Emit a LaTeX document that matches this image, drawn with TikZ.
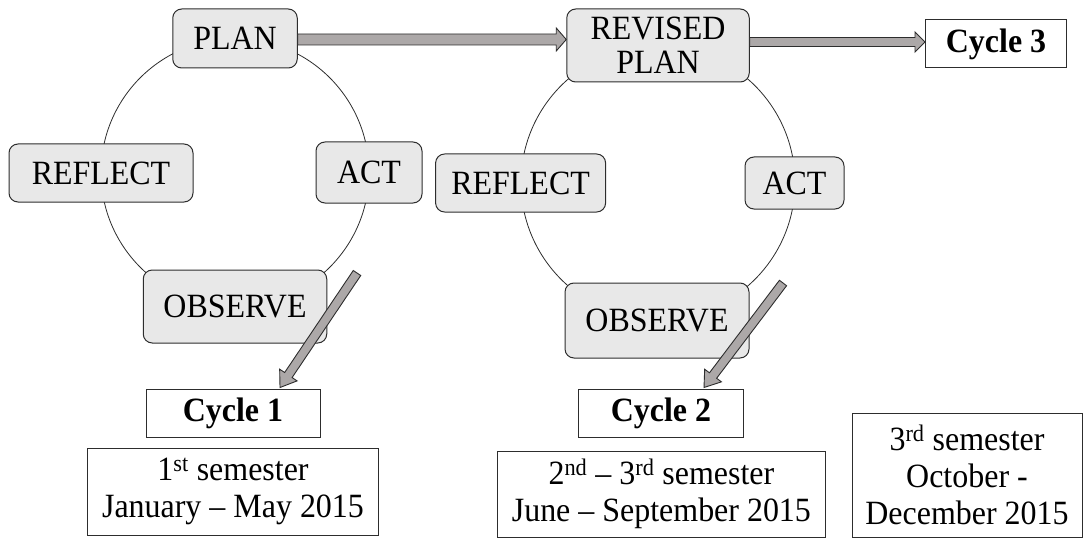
\documentclass[tikz,border=0pt]{standalone}
\usepackage{fontspec}
\setmainfont{Liberation Serif}[FakeStretch=0.94]
\usetikzlibrary{calc}
\definecolor{boxfill}{RGB}{232,232,232}
\definecolor{arrfill}{RGB}{172,168,168}
\definecolor{edgec}{RGB}{45,45,45}
\newcommand\blockarr[5]{%
  \coordinate (bah) at ($(#2)!#5!(#1)$);
  \draw[arrowbody] ($(#1)!#3!90:(#2)$) -- ($(bah)!#3!90:(#2)$) -- ($(bah)!#4!90:(#2)$) -- (#2) -- ($(bah)!#4!-90:(#2)$) -- ($(bah)!#3!-90:(#2)$) -- ($(#1)!#3!-90:(#2)$) -- cycle;}
\begin{document}
\begin{tikzpicture}[x=1pt,y=-1pt,
  txt/.style={font=\fontsize{34}{37}\selectfont, align=center, inner sep=0pt},
  rbox/.style={txt, draw=edgec, fill=boxfill, rounded corners=9pt, line width=1pt},
  pbox/.style={txt, draw=edgec, fill=white, line width=1pt},
  ring/.style={draw=edgec, line width=0.8pt},
  arrowbody/.style={draw=edgec, fill=arrfill, line width=0.9pt, line join=miter}]
\useasboundingbox (0,0) rectangle (1086,540);
% cycle rings
\draw[ring] (235,172.5) circle (134pt);
\draw[ring] (658,182.5) circle (137pt);
% cycle 1
\node[rbox, minimum width=124.5pt, minimum height=59pt] (plan) at (235,38.5) {PLAN};
\node[rbox, minimum width=184pt, minimum height=58pt] (refl1) at (101,173) {REFLECT};
\node[rbox, minimum width=106pt, minimum height=61pt] (act1) at (369,172.5) {ACT};
\node[rbox, minimum width=183.5pt, minimum height=73pt] (obs1) at (235,306.5) {OBSERVE};
\node[pbox, minimum width=174pt, minimum height=48pt] (cyc1) at (233,413) {\textbf{Cycle 1}};
\node[pbox, minimum width=291pt, minimum height=87pt] (sem1) at (233,491.5) {1\textsuperscript{st} semester\\January – May 2015};
% cycle 2
\node[rbox, minimum width=182.5pt, minimum height=73pt, font=\fontsize{34}{34}\selectfont] (rplan) at (658,45.5) {REVISED\\PLAN};
\node[rbox, minimum width=170pt, minimum height=58pt] (refl2) at (520.6,183) {REFLECT};
\node[rbox, minimum width=99pt, minimum height=52pt] (act2) at (794.5,183) {ACT};
\node[rbox, minimum width=184pt, minimum height=75pt] (obs2) at (657,320.5) {OBSERVE};
\node[pbox, minimum width=165pt, minimum height=48pt] (cyc2) at (661,413) {\textbf{Cycle 2}};
\node[pbox, minimum width=328.7pt, minimum height=86pt] (sem2) at (661.4,494) {2\textsuperscript{nd} – 3\textsuperscript{rd} semester\\June – September 2015};
% cycle 3
\node[pbox, minimum width=141pt, minimum height=48pt] (cyc3) at (996,44) {\textbf{Cycle 3}};
\node[pbox, minimum width=230pt, minimum height=124pt] (sem3) at (967,475) {3\textsuperscript{rd} semester\\October -\\December 2015};
% arrows
\coordinate (a1s) at ($(plan.east)+(0,1)$);
\coordinate (a1e) at (rplan.west |- a1s);
\blockarr{a1s}{a1e}{5.5pt}{11.5pt}{10pt}
\coordinate (a2s) at ($(rplan.east |- cyc3.west)+(0,-2)$);
\coordinate (a2e) at (cyc3.west |- a2s);
\blockarr{a2s}{a2e}{4.5pt}{10pt}{10pt}
\coordinate (d1s) at (357,273);
\coordinate (d1e) at ($(cyc1.north)+(47,-1)$);
\blockarr{d1s}{d1e}{4.5pt}{10.5pt}{15pt}
\coordinate (d2s) at (783,283);
\coordinate (d2e) at ($(cyc2.north)+(43,-1)$);
\blockarr{d2s}{d2e}{4.5pt}{10.5pt}{15pt}
\end{tikzpicture}
\end{document}
